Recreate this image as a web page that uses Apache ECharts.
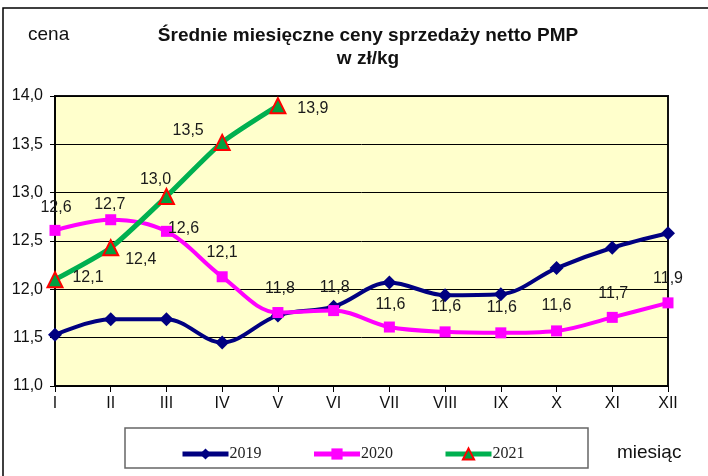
<!DOCTYPE html>
<html>
<head>
<meta charset="utf-8">
<script src="https://cdn.jsdelivr.net/npm/echarts@6/dist/echarts.min.js"></script>
<style>
  html, body { margin: 0; padding: 0; background: #fff; }
  #chart { width: 708px; height: 476px; }
</style>
</head>
<body>
<div id="chart"></div>
<script>
// miesiące
const months = ["I", "II", "III", "IV", "V", "VI", "VII", "VIII", "IX", "X", "XI", "XII"]

// średnie ceny w zł/kg
const prices2019 = [11.53, 11.69, 11.69, 11.45, 11.73, 11.82, 12.07, 11.94, 11.95, 12.22, 12.43, 12.58]
const prices2020 = [12.61, 12.72, 12.6, 12.13, 11.76, 11.78, 11.61, 11.56, 11.55, 11.57, 11.71, 11.86]
const prices2021 = [12.1, 12.43, 12.96, 13.52, 13.9]

const yTicks = [11.0, 11.5, 12.0, 12.5, 13.0, 13.5, 14.0]

const fmt = (v) => v.toFixed(1).replace(".", ",")

// przesunięcia etykiet względem punktu
const offsets2020 = [[1, -23], [-1, -15], [17, -3], [0, -24], [2, -24], [1, -23], [1, -22], [1, -25], [1, -25], [0, -25], [1, -24], [0, -24]]
const offsets2021 = [[33, -2], [30, 12], [-11, -17], [-34, -12], [35, 3]]

const labelled = (values, offsets) =>
  values.map((v, i) => ({
    value: v,
    label: {
      show: true,
      position: "inside",
      offset: offsets[i],
      formatter: (p) => fmt(p.value)
    }
  }))

const labelStyle = {
  fontFamily: "Liberation Sans, Arial, sans-serif",
  fontSize: 16,
  color: "#1a1a1a"
}

const chart = echarts.init(document.getElementById("chart"))

chart.setOption({
  animation: false,
  backgroundColor: "#fff",
  textStyle: { fontFamily: "Liberation Sans, Arial, sans-serif" },
  graphic: [
    {
      type: "rect",
      shape: { x: 3, y: 8, width: 720, height: 490 },
      style: { fill: "none", stroke: "#000", lineWidth: 1.5 },
      silent: true
    },
    {
      type: "rect",
      shape: { x: 125, y: 428, width: 463, height: 40 },
      style: { fill: "#fff", stroke: "#666", lineWidth: 1.5 },
      silent: true,
      z: -1
    },
    {
      type: "text",
      left: 28,
      top: 25,
      style: { text: "cena", fontSize: 19, fill: "#111", fontFamily: "Liberation Sans, Arial, sans-serif" }
    },
    {
      type: "text",
      left: 617,
      top: 443,
      style: { text: "miesiąc", fontSize: 19, fill: "#111", fontFamily: "Liberation Sans, Arial, sans-serif" }
    }
  ],
  title: {
    text: "Średnie miesięczne ceny sprzedaży netto PMP\nw zł/kg",
    left: 363,
    top: 19,
    textAlign: "center",
    textStyle: {
      fontFamily: "Liberation Sans, Arial, sans-serif",
      fontSize: 19,
      fontWeight: "bold",
      color: "#111",
      lineHeight: 23
    }
  },
  legend: {
    left: 175,
    top: 441,
    itemWidth: 46,
    itemHeight: 14,
    itemGap: 50,
    lineStyle: { width: 5 },
    textStyle: { fontFamily: "Liberation Serif, Times New Roman, serif", fontSize: 16, color: "#222", padding: [0, 0, 0, -4] },
    data: ["2019", "2020", "2021"]
  },
  grid: {
    left: 55,
    right: 40,
    top: 96,
    bottom: 90,
    show: true,
    backgroundColor: "#FFFFCC",
    borderColor: "#111",
    borderWidth: 2
  },
  xAxis: {
    type: "category",
    data: months,
    boundaryGap: false,
    axisLine: { lineStyle: { color: "#000", width: 1.5 } },
    axisTick: { alignWithLabel: true, length: 6, lineStyle: { color: "#000" } },
    axisLabel: { fontSize: 16, color: "#111", margin: 10 },
    splitLine: { show: false }
  },
  yAxis: {
    type: "value",
    min: yTicks[0],
    max: yTicks[yTicks.length - 1],
    interval: 0.5,
    axisLine: { show: true, lineStyle: { color: "#000", width: 1.5 } },
    axisTick: { show: true, length: 5, lineStyle: { color: "#000" } },
    axisLabel: { fontSize: 16, color: "#111", margin: 12, formatter: (v) => fmt(v) },
    splitLine: { lineStyle: { color: "#000", width: 1 } }
  },
  series: [
    {
      name: "2019",
      type: "line",
      data: prices2019,
      smooth: 0.35,
      symbol: "diamond",
      symbolSize: 14,
      lineStyle: { color: "#000080", width: 4 },
      itemStyle: { color: "#000080" }
    },
    {
      name: "2020",
      type: "line",
      data: labelled(prices2020, offsets2020),
      smooth: 0.35,
      symbol: "rect",
      symbolSize: 11,
      lineStyle: { color: "#FF00FF", width: 4 },
      itemStyle: { color: "#FF00FF" },
      label: labelStyle
    },
    {
      name: "2021",
      type: "line",
      data: labelled(prices2021, offsets2021),
      smooth: 0.2,
      symbol: "triangle",
      symbolSize: 15,
      lineStyle: { color: "#00B050", width: 5 },
      itemStyle: { color: "#00A040", borderColor: "#FF0000", borderWidth: 2 },
      label: labelStyle
    }
  ]
})
</script>
</body>
</html>
